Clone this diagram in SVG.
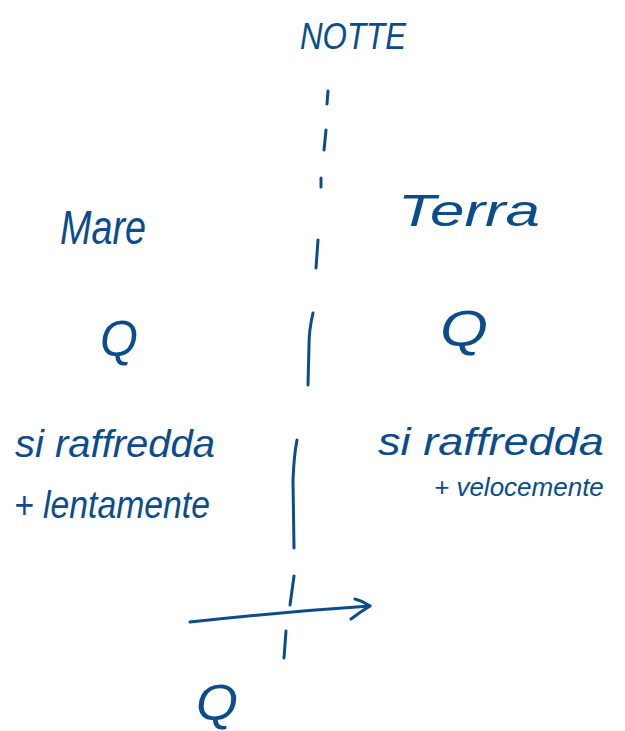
<svg xmlns="http://www.w3.org/2000/svg" width="625" height="731" viewBox="0 0 625 731">
  <style>
    .ink { fill: #0b4c8c; font-family: "Liberation Sans", "DejaVu Sans", sans-serif; font-style: italic; }
    .stroke { fill: none; stroke: #0b4c8c; stroke-width: 3; stroke-linecap: round; stroke-linejoin: round; }
  </style>
  <rect width="625" height="731" fill="#ffffff"/>

  <!-- title -->
  <g id="title">
    <text class="ink" x="300" y="49" font-size="36" textLength="106" lengthAdjust="spacingAndGlyphs">NOTTE</text>
  </g>

  <!-- sea side -->
  <g id="mare">
    <text class="ink" x="60" y="244" font-size="48" textLength="86" lengthAdjust="spacingAndGlyphs">Mare</text>
  </g>
  <g id="q-mare">
    <text class="ink" x="100" y="356" font-size="50" textLength="38" lengthAdjust="spacingAndGlyphs">Q</text>
  </g>
  <g id="nota-mare">
    <text class="ink" x="15" y="457" font-size="38" textLength="200" lengthAdjust="spacingAndGlyphs">si raffredda</text>
    <text class="ink" x="14" y="518" font-size="38" textLength="196" lengthAdjust="spacingAndGlyphs">+ lentamente</text>
  </g>

  <!-- land side -->
  <g id="terra">
    <text class="ink" x="398" y="226" font-size="44" textLength="142" lengthAdjust="spacingAndGlyphs">Terra</text>
  </g>
  <g id="q-terra">
    <text class="ink" x="440" y="346" font-size="50" textLength="48" lengthAdjust="spacingAndGlyphs">Q</text>
  </g>
  <g id="nota-terra">
    <text class="ink" x="378" y="455" font-size="38" textLength="226" lengthAdjust="spacingAndGlyphs">si raffredda</text>
    <text class="ink" x="434" y="496" font-size="26">+ velocemente</text>
  </g>

  <!-- heat below the arrow -->
  <g id="q-flusso">
    <text class="ink" x="196" y="720" font-size="50" textLength="42" lengthAdjust="spacingAndGlyphs">Q</text>
  </g>

  <!-- connectors: dashed divider and heat flow arrow -->
  <g id="connectors">
    <path class="stroke" d="M328 91 L327 104"/>
    <path class="stroke" d="M326 130 L324 150"/>
    <path class="stroke" d="M321 178 L321 187"/>
    <path class="stroke" d="M318 240 L316 268"/>
    <path class="stroke" d="M313 313 Q309 330 309 345 L308 385"/>
    <path class="stroke" d="M297 440 Q294 455 293 480 L294 548"/>
    <path class="stroke" d="M294 576 L290 605"/>
    <path class="stroke" d="M286 631 L284 658"/>
    <path class="stroke" d="M190 622 Q280 612 370 606"/>
    <path class="stroke" d="M355 599 Q363 601 370 606 Q360 612 351 619"/>
  </g>
</svg>
